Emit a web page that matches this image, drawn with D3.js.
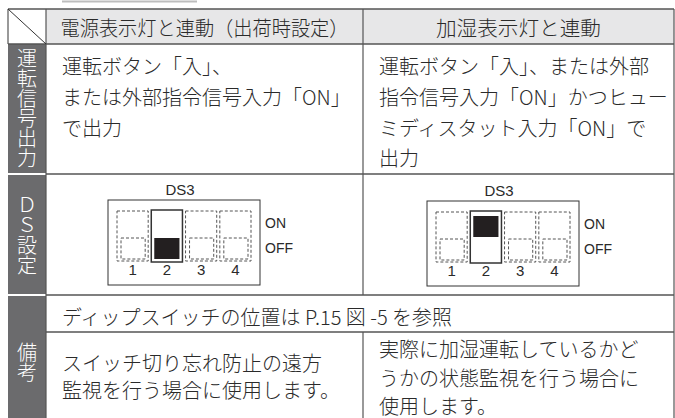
<!DOCTYPE html>
<html><head><meta charset="utf-8">
<script src="https://cdn.jsdelivr.net/npm/d3@7/dist/d3.min.js"></script>
<style>
html,body{margin:0;padding:0;background:#fff;}
svg{display:block;}
text{font-family:"Noto Sans CJK JP","Noto Sans",sans-serif;}
text.lat{font-family:"Liberation Sans","DejaVu Sans",sans-serif;}
text.vert{writing-mode:vertical-rl;text-orientation:upright;}
</style></head>
<body>
<script>
// ---- data ----
const columnHeaders = ["電源表示灯と連動（出荷時設定）", "加湿表示灯と連動"];
const rowLabels = ["運転信号出力", "ＤＳ設定", "備考"];
const outputTextA = ["運転ボタン「入」、", "または外部指令信号入力「ON」", "で出力"];
const outputTextB = ["運転ボタン「入」、または外部", "指令信号入力「ON」かつヒュー", "ミディスタット入力「ON」で", "出力"];
const dsName = "DS3";
const switchNumbers = ["1", "2", "3", "4"];
const switchStatesA = [null, "OFF", null, null];
const switchStatesB = [null, "ON", null, null];
const stateLabels = ["ON", "OFF"];
const noteCommon = "ディップスイッチの位置は P.15 図 -5 を参照";
const noteA = ["スイッチ切り忘れ防止の遠方", "監視を行う場合に使用します。"];
const noteB = ["実際に加湿運転しているかど", "うかの状態監視を行う場合に", "使用します。"];

// ---- layout ----
const W = 675, H = 418;
const X0 = 8, X1 = 46, XM = 363, X2 = 674;
const Y0 = 9, YH = 44, YR1 = 174, YR2 = 295, YN = 332, YB = 418;
const ink = "#2a2a2a", lineC = "#555", labelBg = "#6b6b6d", headBg = "#e7e7e8";
const FS = 20;

const svg = d3.select("body").append("svg").attr("width", W).attr("height", H);
svg.append("rect").attr("width", W).attr("height", H).attr("fill", "#fff");

// top decorative line
svg.append("line").attr("x1", 62).attr("x2", 197).attr("y1", 1.5).attr("y2", 1.5)
  .attr("stroke", "#bdbdbd").attr("stroke-width", 2);

// header background
svg.append("rect").attr("x", X1).attr("y", Y0).attr("width", X2 - X1).attr("height", YH - Y0).attr("fill", headBg);
// left label column
svg.append("rect").attr("x", X0).attr("y", YH).attr("width", X1 - X0).attr("height", YB - YH).attr("fill", labelBg);
[YR1, YR2].forEach(y => svg.append("line").attr("x1", X0).attr("x2", X1).attr("y1", y).attr("y2", y)
  .attr("stroke", "#fff").attr("stroke-width", 2));

// grid lines
const hLines = [[X0, X2, Y0], [X0, X2, YH], [X1, X2, YR1], [X1, X2, YR2], [X1, X2, YN]];
hLines.forEach(([a, b, y]) => svg.append("line").attr("x1", a).attr("x2", b).attr("y1", y).attr("y2", y)
  .attr("stroke", lineC).attr("stroke-width", 1.5));
const vLines = [[X0, Y0, YH], [X1, Y0, YB], [XM, Y0, YR2], [XM, YN, YB], [X2, Y0, YB]];
vLines.forEach(([x, a, b]) => svg.append("line").attr("x1", x).attr("x2", x).attr("y1", a).attr("y2", b)
  .attr("stroke", lineC).attr("stroke-width", 1.2));
svg.append("line").attr("x1", X0).attr("y1", Y0).attr("x2", X1).attr("y2", YH)
  .attr("stroke", "#333").attr("stroke-width", 1);

// column headers
const colCenters = [(X1 + XM) / 2, (XM + X2) / 2];
const hdrLen = [288, 165];
svg.selectAll("text.hdr").data(columnHeaders).join("text").attr("class", "hdr")
  .attr("x", (d, i) => colCenters[i] - hdrLen[i] / 2).attr("y", 27)
  .attr("textLength", (d, i) => hdrLen[i]).attr("lengthAdjust", "spacingAndGlyphs")
  .attr("dominant-baseline", "central").attr("font-size", FS).attr("font-weight", 300)
  .attr("fill", ink).text(d => d);

// vertical row labels (one vertical text per row)
const labelMid = [108, 235, 362];
svg.selectAll("text.vert").data(rowLabels).join("text").attr("class", "vert")
  .attr("x", (X0 + X1) / 2).attr("y", (d, i) => labelMid[i])
  .attr("text-anchor", "middle").attr("font-size", 20).attr("letter-spacing", 0)
  .attr("font-weight", 300).attr("fill", "#fff").text(d => d);

function lines(arr, x, ys) {
  arr.forEach((t, i) => svg.append("text").attr("x", x).attr("y", ys[i])
    .attr("dominant-baseline", "central").attr("font-size", FS).attr("font-weight", 300)
    .attr("fill", ink).text(t));
}
lines(outputTextA, 62, [65, 96, 127]);
lines(outputTextB, 379, [65, 96, 127, 157]);
lines([noteCommon], 62, [316]);
lines(noteA, 62, [362, 389]);
lines(noteB, 379, [348, 377, 405]);

// DIP switch diagram
function drawDS(bx, by, states) {
  const bw = 152, bh = 85;
  const g = svg.append("g");
  g.append("text").attr("class", "lat").attr("x", bx + bw / 2 - 4).attr("y", by - 11).attr("text-anchor", "middle")
    .attr("dominant-baseline", "central").attr("font-size", 15).attr("fill", ink).text(dsName);
  g.append("rect").attr("x", bx).attr("y", by).attr("width", bw).attr("height", bh)
    .attr("fill", "#fff").attr("stroke", "#333").attr("stroke-width", 1);
  const xs = d3.scaleBand().domain(switchNumbers).range([bx + 9, bx + 143]).paddingInner(0.09);
  const sy = by + 11, sh = 50;
  switchNumbers.forEach((n, i) => {
    const x = xs(n), w = xs.bandwidth();
    const st = states[i];
    if (st) {
      g.append("rect").attr("x", x).attr("y", sy - 1).attr("width", w).attr("height", sh + 2)
        .attr("fill", "#fff").attr("stroke", "#333").attr("stroke-width", 1.5);
      const ky = st === "ON" ? sy + 4 : sy + 27;
      g.append("rect").attr("x", x + 3).attr("y", ky).attr("width", w - 6).attr("height", 21).attr("fill", "#231f20");
    } else {
      g.append("rect").attr("x", x).attr("y", sy).attr("width", w).attr("height", sh)
        .attr("fill", "none").attr("stroke", "#555").attr("stroke-width", 1).attr("stroke-dasharray", "3,2");
      g.append("rect").attr("x", x + 4).attr("y", sy + 27).attr("width", w - 7).attr("height", sh - 29)
        .attr("fill", "none").attr("stroke", "#555").attr("stroke-width", 1).attr("stroke-dasharray", "3,2");
    }
    g.append("text").attr("class", "lat").attr("x", x + w / 2).attr("y", by + 69).attr("text-anchor", "middle")
      .attr("dominant-baseline", "central").attr("font-size", 15).attr("fill", ink).text(n);
  });
  stateLabels.forEach((s, i) => g.append("text").attr("class", "lat").attr("x", bx + bw + 5).attr("y", by + 23 + i * 25)
    .attr("dominant-baseline", "central").attr("font-size", 14).attr("fill", ink).text(s));
}
drawDS(108, 200, switchStatesA);
drawDS(427, 201, switchStatesB);
</script>
</body></html>
